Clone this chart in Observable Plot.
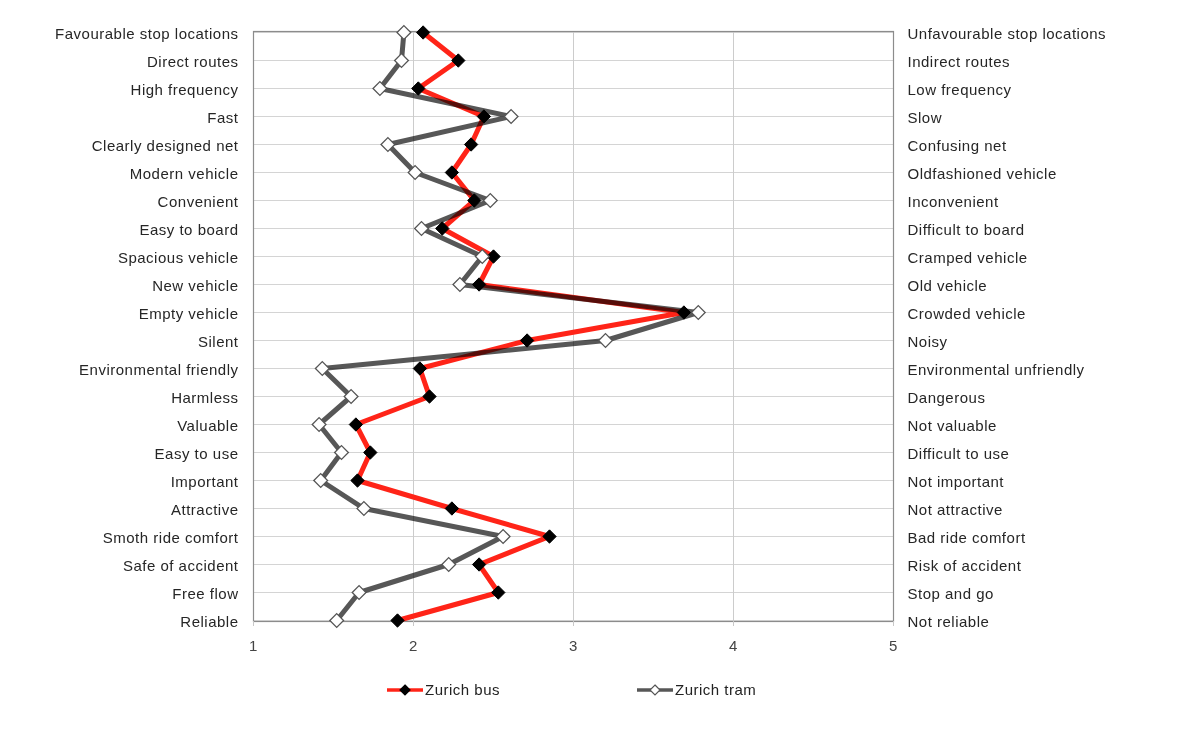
<!DOCTYPE html>
<html>
<head>
<meta charset="utf-8">
<script src="https://cdn.jsdelivr.net/npm/d3@7"></script>
<script src="https://cdn.jsdelivr.net/npm/@observablehq/plot@0.6"></script>
<style>
  body { margin: 0; background: #fff; font-family: "Liberation Sans", Arial, sans-serif; }
  #chart { position: relative; width: 1200px; }
  #chart svg text { letter-spacing: 0.5px; }
  #legend { position: relative; width: 1200px; height: 60px; font-size: 15px; letter-spacing: 0.5px; color: #222; }
  .item { position: absolute; top: 16px; display: flex; align-items: center; }
  .item svg { display: block; margin-right: 2px; }
</style>
</head>
<body>
<div id="chart"></div>
<div id="legend"></div>
<script>
const leftLabels = [
  "Favourable stop locations", "Direct routes", "High frequency", "Fast",
  "Clearly designed net", "Modern vehicle", "Convenient", "Easy to board",
  "Spacious vehicle", "New vehicle", "Empty vehicle", "Silent",
  "Environmental friendly", "Harmless", "Valuable", "Easy to use",
  "Important", "Attractive", "Smoth ride comfort", "Safe of accident",
  "Free flow", "Reliable"
];
const rightLabels = [
  "Unfavourable stop locations", "Indirect routes", "Low frequency", "Slow",
  "Confusing net", "Oldfashioned vehicle", "Inconvenient", "Difficult to board",
  "Cramped vehicle", "Old vehicle", "Crowded vehicle", "Noisy",
  "Environmental unfriendly", "Dangerous", "Not valuable", "Difficult to use",
  "Not important", "Not attractive", "Bad ride comfort", "Risk of accident",
  "Stop and go", "Not reliable"
];
const busValues = [2.06, 2.28, 2.03, 2.44, 2.36, 2.24, 2.38, 2.18, 2.50, 2.41, 3.69, 2.71,
  2.04, 2.10, 1.64, 1.73, 1.65, 2.24, 2.85, 2.41, 2.53, 1.90];
const tramValues = [1.94, 1.925, 1.79, 2.61, 1.84, 2.01, 2.48, 2.05, 2.43, 2.29, 3.78, 3.20,
  1.43, 1.61, 1.41, 1.55, 1.42, 1.69, 2.56, 2.22, 1.66, 1.52];
const xTicks = [1, 2, 3, 4, 5];
const seriesNames = ["Zurich bus", "Zurich tram"];

const busColor = "#ff2418";
const tramColor = "#575757";

const data = leftLabels.map((c, i) => ({cat: c, bus: busValues[i], tram: tramValues[i]}));

const chart = Plot.plot({
  width: 1200,
  height: 665,
  marginTop: 31,
  marginBottom: 44,
  marginLeft: 253,
  marginRight: 307,
  style: {fontFamily: "'Liberation Sans', Arial, sans-serif", fontSize: "15px", background: "#fff"},
  x: {domain: [1, 5]},
  y: {type: "point", domain: leftLabels, padding: 0},
  marks: [
    Plot.gridY(leftLabels, {stroke: "#d4d4d4", strokeOpacity: 1}),
    Plot.gridX([2, 3, 4], {stroke: "#cccccc", strokeOpacity: 1}),
    Plot.frame({stroke: "#8c8c8c", strokeWidth: 1.2}),
    Plot.axisX({ticks: xTicks, tickFormat: d3.format("d"), tickSize: 5, stroke: "#c8c8c8", tickPadding: 14, fontSize: 15, fill: "#444", label: null}),
    Plot.axisY({anchor: "left", tickSize: 0, tickPadding: 15, dy: 2, fontSize: 15, fill: "#262626", label: null}),
    Plot.axisY({anchor: "right", tickSize: 0, tickPadding: 14, dy: 2, fontSize: 15, fill: "#262626", label: null,
      tickFormat: d => rightLabels[leftLabels.indexOf(d)]}),
    Plot.line(data, {x: "bus", y: "cat", stroke: busColor, strokeWidth: 5}),
    Plot.line(data, {x: "tram", y: "cat", stroke: tramColor, strokeWidth: 5, mixBlendMode: "multiply"}),
    Plot.dot(data, {x: "bus", y: "cat", symbol: "diamond2", r: 6, fill: "#000", stroke: "#000", strokeWidth: 1}),
    Plot.dot(data, {x: "tram", y: "cat", symbol: "diamond2", r: 6.2, fill: "#fff", stroke: "#555", strokeWidth: 1.3})
  ]
});
document.getElementById("chart").appendChild(chart);

// Legend
const legend = document.getElementById("legend");
function addItem(left, name, lineColor, markFill, markStroke) {
  const div = document.createElement("div");
  div.className = "item";
  div.style.left = left + "px";
  div.innerHTML = `<svg width="36" height="14"><line x1="0" y1="7" x2="36" y2="7" stroke="${lineColor}" stroke-width="3.5"/>
    <path d="M18,2 L23,7 L18,12 L13,7 Z" fill="${markFill}" stroke="${markStroke}" stroke-width="1.2"/></svg><span>${name}</span>`;
  legend.appendChild(div);
}
addItem(387, seriesNames[0], busColor, "#000", "#000");
addItem(637, seriesNames[1], tramColor, "#fff", "#555");
</script>
</body>
</html>
